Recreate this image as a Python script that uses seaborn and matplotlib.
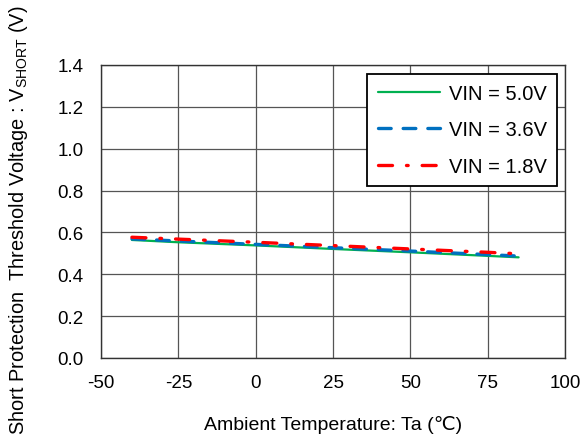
import matplotlib
matplotlib.use("Agg")
import matplotlib.pyplot as plt
import seaborn as sns
import pandas as pd

temps = [-40, -25, 0, 25, 50, 75, 85]
v_50 = [0.564, 0.553, 0.538, 0.521, 0.505, 0.488, 0.481]
v_36 = [0.569, 0.559, 0.543, 0.527, 0.511, 0.494, 0.487]
v_18 = [0.577, 0.568, 0.553, 0.537, 0.521, 0.505, 0.498]
series_labels = ["VIN = 5.0V", "VIN = 3.6V", "VIN = 1.8V"]
x_ticks = [-50, -25, 0, 25, 50, 75, 100]
y_ticks = [0.0, 0.2, 0.4, 0.6, 0.8, 1.0, 1.2, 1.4]

sns.set_style("white")
plt.rcParams['font.family'] = ['Liberation Sans', 'DejaVu Sans']
plt.rcParams['text.color'] = 'black'
plt.rcParams['axes.labelcolor'] = 'black'
plt.rcParams['xtick.color'] = 'black'
plt.rcParams['ytick.color'] = 'black'

fig = plt.figure(figsize=(5.87, 4.39), dpi=100)
ax = fig.add_axes([101/587, 1-359/439, (565-101)/587, (359-66)/439])

df = pd.DataFrame({"T": temps, "a": v_50, "b": v_36, "c": v_18})
sns.lineplot(data=df, x="T", y="a", ax=ax, color="#00b050", lw=1.6, label=series_labels[0])
sns.lineplot(data=df, x="T", y="b", ax=ax, color="#0070c0", lw=2.4, label=series_labels[1])
ax.lines[-1].set_dashes([3.8, 3.6])
sns.lineplot(data=df, x="T", y="c", ax=ax, color="#ff0000", lw=2.4, label=series_labels[2])
ax.lines[-1].set_dashes([4.2, 4.2, 0.5, 4.2])
for ln in ax.lines:
    ln.set_dash_capstyle("round")

ax.set_xlim(-50, 100)
ax.set_ylim(0, 1.4)
ax.set_xticks(x_ticks)
ax.set_yticks(y_ticks)
ax.set_xticklabels([str(t) for t in x_ticks], fontsize=13.5)
ax.set_yticklabels([f"{v:.1f}" for v in y_ticks], fontsize=13.5)
ax.tick_params(axis="y", length=0, pad=12.5)
ax.tick_params(axis="x", length=0, pad=11.5)
ax.grid(True, color="#555555", lw=0.9)
for s in ax.spines.values():
    s.set_color("#333333")
    s.set_linewidth(1)

ax.set_xlabel("Ambient Temperature: Ta (\u2103)", fontsize=14)
ax.xaxis.set_label_coords(0.5, -0.196)
ax.set_ylabel("Short Protection  Threshold Voltage : V$_\\mathregular{SHORT}$ (V)", fontsize=14.4)
ax.yaxis.set_label_coords(-0.153, 0.473)

leg = ax.legend(loc="upper right", fontsize=14.5, frameon=True, fancybox=False,
                edgecolor="black", handlelength=3.1, borderpad=0.5, labelspacing=0.86,
                handletextpad=0.45, borderaxespad=0, bbox_to_anchor=(0.983, 0.969))
leg.get_frame().set_linewidth(1.3)
leg.get_frame().set_alpha(1)

fig.savefig("out.png", dpi=100)
